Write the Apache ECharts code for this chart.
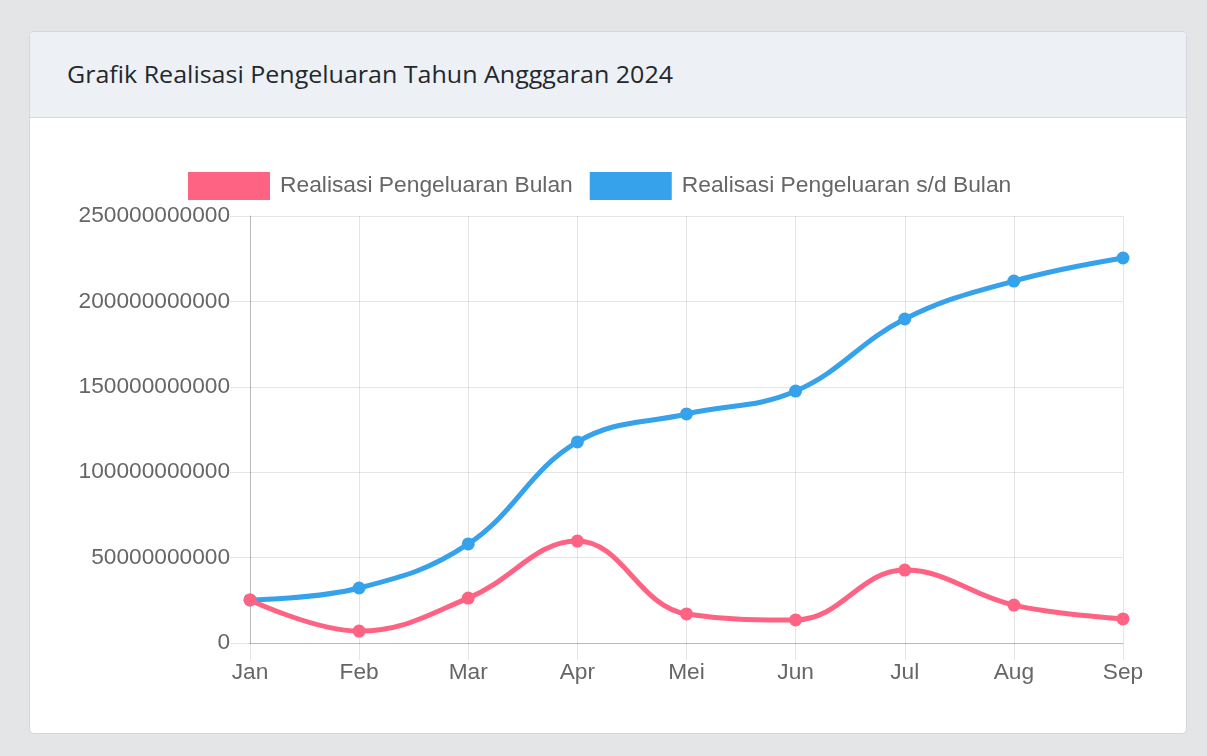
<!DOCTYPE html>
<html>
<head>
<meta charset="utf-8">
<script src="https://cdn.jsdelivr.net/npm/echarts@6/dist/echarts.min.js"></script>
<style>
  html, body { margin: 0; padding: 0; width: 1207px; height: 756px; background: #e4e5e6; overflow: hidden; }
  .card { position: absolute; left: 29px; top: 31px; width: 1156px; height: 701px; background: #fff;
          border: 1px solid #d3d6da; border-radius: 5px; overflow: hidden; }
  .card-header { height: 85px; background: #edf1f5; border-bottom: 1px solid #d3d6da; }
  .card-header span { position: absolute; left: 37px; top: 26px; font-family: "Open Sans", "Noto Sans", sans-serif;
          font-size: 23px; color: #23282d; white-space: nowrap; transform-origin: 0 50%; display: inline-block; }
  #chart { position: absolute; left: 0; top: 0; width: 1207px; height: 756px; }
</style>
</head>
<body>
<div class="card"><div class="card-header"><span id="title">Grafik Realisasi Pengeluaran Tahun Angggaran 2024</span></div></div>
<div id="chart"></div>
<script>
const categories = ["Jan", "Feb", "Mar", "Apr", "Mei", "Jun", "Jul", "Aug", "Sep"];
const seriesNames = ["Realisasi Pengeluaran Bulan", "Realisasi Pengeluaran s/d Bulan"];
const realisasiBulan = [25200000000, 7000000000, 26300000000, 59700000000, 17000000000, 13500000000, 42700000000, 22200000000, 14100000000];
const realisasiSdBulan = [25200000000, 32200000000, 58000000000, 117700000000, 134100000000, 147500000000, 189700000000, 211900000000, 225400000000];
const yTicks = [0, 50000000000, 100000000000, 150000000000, 200000000000, 250000000000];

// stretch title to the reference width
const t = document.getElementById('title');
const w = t.getBoundingClientRect().width;
t.style.transform = 'scaleX(' + (606 / w) + ')';

const chart = echarts.init(document.getElementById('chart'), null, { renderer: 'canvas' });
const font = '"Liberation Sans", Arial, sans-serif';
const fs = 22.7;
const gridColor = 'rgba(0,0,0,0.1)';
const axisColor = 'rgba(0,0,0,0.2)';
chart.setOption({
  animation: false,
  backgroundColor: 'transparent',
  textStyle: { fontFamily: font },
  legend: {
    left: 188, top: 172, padding: 0,
    itemWidth: 82, itemHeight: 28, itemGap: 17,
    icon: 'rect',
    textStyle: { fontFamily: font, fontSize: 22.8, color: '#666', padding: [0, 0, 0, 5] },
    data: seriesNames
  },
  grid: { left: 250, top: 216, right: 1207 - 1123, bottom: 756 - 643, containLabel: false },
  xAxis: {
    type: 'category',
    data: categories,
    boundaryGap: false,
    axisLine: { show: true, lineStyle: { color: axisColor, width: 1 } },
    axisTick: { show: true, length: 17, lineStyle: { color: gridColor } },
    splitLine: { show: true, lineStyle: { color: gridColor, width: 1 } },
    axisLabel: { fontFamily: font, fontSize: fs, color: '#666', margin: 18 }
  },
  yAxis: {
    type: 'value',
    min: yTicks[0], max: yTicks[yTicks.length - 1], interval: yTicks[1] - yTicks[0],
    axisLine: { show: true, lineStyle: { color: axisColor, width: 1 } },
    axisTick: { show: true, length: 20, lineStyle: { color: gridColor } },
    splitLine: { show: true, lineStyle: { color: gridColor, width: 1 } },
    axisLabel: { fontFamily: font, fontSize: fs, color: '#666', margin: 20, formatter: v => String(v) }
  },
  series: [
    {
      name: seriesNames[0], type: 'line', data: realisasiBulan, smooth: 0.4,
      symbol: 'circle', symbolSize: 13,
      itemStyle: { color: '#ff6384' },
      lineStyle: { color: '#ff6384', width: 5 },
      z: 3
    },
    {
      name: seriesNames[1], type: 'line', data: realisasiSdBulan, smooth: 0.4,
      symbol: 'circle', symbolSize: 13,
      itemStyle: { color: '#36a2eb' },
      lineStyle: { color: '#36a2eb', width: 5 },
      z: 2
    }
  ]
});
</script>
</body>
</html>
